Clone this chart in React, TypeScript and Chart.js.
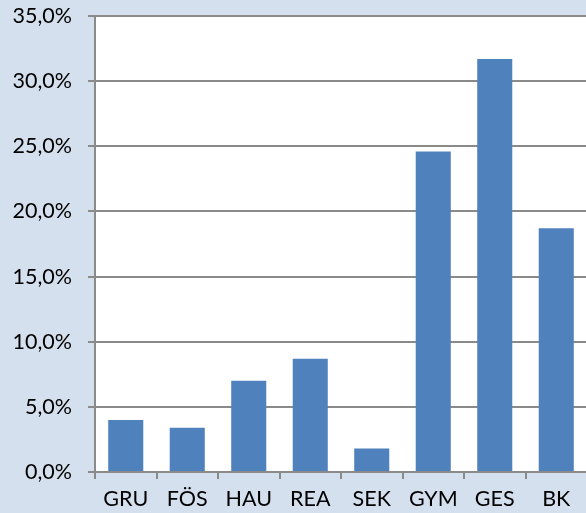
import React, { useEffect, useRef } from "react";
import { Chart, registerables } from "chart.js";

Chart.register(...registerables);

const categories = ["GRU", "FÖS", "HAU", "REA", "SEK", "GYM", "GES", "BK"];
const values = [4.0, 3.4, 7.0, 8.7, 1.8, 24.6, 31.7, 18.7];
const yMin = 0;
const yMax = 35;
const yStep = 5;

const W = 596;
const H = 513;

export default function App() {
  const ref = useRef<HTMLCanvasElement | null>(null);
  useEffect(() => {
    if (!ref.current) return;
    const bgPlugin = {
      id: "bg",
      beforeDraw(chart: any) {
        const { ctx, chartArea } = chart;
        ctx.save();
        ctx.fillStyle = "#d4e0ed";
        ctx.fillRect(0, 0, chart.width, chart.height);
        ctx.fillStyle = "#ffffff";
        ctx.fillRect(chartArea.left, chartArea.top, chartArea.right - chartArea.left, chartArea.bottom - chartArea.top);
        ctx.restore();
      },
    };
    const font = { family: "Lato", size: 21.5 };
    const chart = new Chart(ref.current, {
      type: "bar",
      data: {
        labels: categories,
        datasets: [
          {
            data: values,
            backgroundColor: "#4f81bd",
            borderWidth: 0,
            barPercentage: 1,
            categoryPercentage: 0.57,
          },
        ],
      },
      options: {
        animation: false,
        responsive: false,
        maintainAspectRatio: false,
        layout: { padding: { top: 16, left: 0, right: W - 587, bottom: 0 } },
        plugins: { legend: { display: false }, tooltip: { enabled: false } },
        scales: {
          x: {
            afterFit(scale: any) {
              scale.height = H - 472;
              scale.paddingLeft = 0;
              scale.paddingRight = 0;
            },
            grid: {
              display: true,
              drawOnChartArea: false,
              drawTicks: true,
              tickLength: 7,
              color: "#8a8a8a",
              lineWidth: 2,
              offset: true,
            },
            border: { display: true, color: "#8a8a8a", width: 2 },
            ticks: {
              color: "#000000",
              padding: 7,
              font,
              maxRotation: 0,
              autoSkip: false,
            },
          },
          y: {
            min: yMin,
            max: yMax,
            afterFit(scale: any) {
              scale.width = 95;
              scale.paddingTop = 0;
              scale.paddingBottom = 0;
            },
            grid: {
              color: "#8a8a8a",
              lineWidth: 2,
              tickLength: 7,
              drawTicks: true,
            },
            border: { display: true, color: "#8a8a8a", width: 2 },
            ticks: {
              stepSize: yStep,
              color: "#000000",
              padding: 16,
              font,
              callback: (v: any) => Number(v).toFixed(1).replace(".", ",") + "%",
            },
          },
        },
      },
      plugins: [bgPlugin],
    });
    return () => chart.destroy();
  }, []);
  return (
    <div style={{ position: "fixed", left: 0, top: 0, width: 586, height: 513, overflow: "hidden", background: "#d4e0ed" }}>
      <canvas ref={ref} width={W} height={H} style={{ display: "block", width: W, height: H }} />
    </div>
  );
}
